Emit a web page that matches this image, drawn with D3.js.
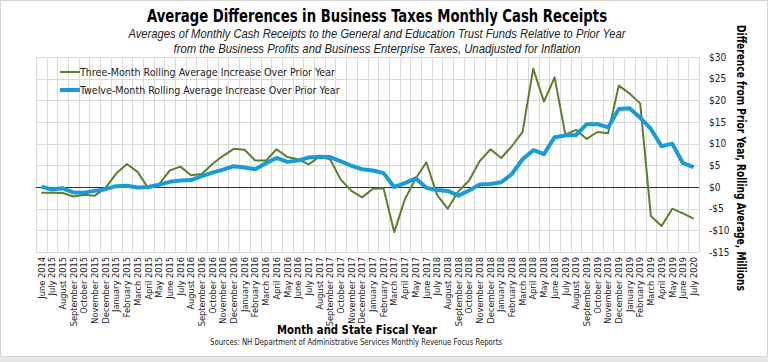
<!DOCTYPE html>
<html>
<head>
<meta charset="utf-8">
<script src="https://cdn.jsdelivr.net/npm/d3@7"></script>
<style>
  body { margin: 0; background: #fff; }
  .tick text { font-family: "DejaVu Sans Condensed", "Liberation Sans Narrow", "DejaVu Sans", sans-serif; fill: #222; }
</style>
</head>
<body>
<div id="chart"></div>
<script>
// month names in order of the state fiscal year (July..June)
var fyMonths = ["July", "August", "September", "October", "November", "December",
                "January", "February", "March", "April", "May", "June"];
var fiscalYears = [2015, 2016, 2017, 2018, 2019];

// tick labels: June 2014, then every month labelled with its fiscal year, then July 2020
var months = ["June 2014"];
fiscalYears.forEach(function(fy){
	fyMonths.forEach(function(m){ months.push(m + " " + fy); });
});
months.push("July 2020");

// three month rolling average increase over prior year ($ millions)
var threeMonth = [-1.3, -1.3, -1.4, -2.2, -1.8, -2.0, -0.2, 3.1, 5.3, 3.5,
                  -0.3, 0.6, 3.8, 4.7, 2.7, 3.0, 5.3, 7.2, 8.8, 8.6,
                  6.1, 6.1, 8.7, 6.9, 6.4, 5.2, 7.0, 6.4, 1.7, -0.9,
                  -2.4, -0.4, -0.3, -10.4, -2.8, 1.9, 5.7, -1.8, -5.0, -1.0,
                  1.5, 6.0, 8.7, 6.7, 9.4, 12.7, 27.3, 19.7, 25.3, 12.1,
                  13.2, 11.1, 12.7, 12.4, 23.4, 21.6, 19.3, -6.7, -9.0, -5.0,
                  -6.1, -7.3];

// twelve month rolling average increase over prior year ($ millions)
var twelveMonth = [0.1, -0.6, -0.3, -1.25, -1.3, -0.9, -0.5, 0.2, 0.3, -0.1,
                   0.0, 0.5, 1.2, 1.5, 1.6, 2.5, 3.3, 4.0, 4.8, 4.5,
                   4.1, 5.5, 6.7, 5.8, 6.1, 6.8, 7.0, 6.9, 5.9, 4.9,
                   4.1, 3.8, 3.2, 0.0, 0.9, 2.0, -0.2, -0.7, -0.9, -2.0,
                   -0.8, 0.55, 0.7, 1.1, 3.0, 6.4, 8.5, 7.6, 11.5, 11.9,
                   12.0, 14.5, 14.5, 13.75, 18.0, 18.2, 16.0, 13.4, 9.4, 10.0,
                   5.5, 4.6];

var yTicks = [-15, -10, -5, 0, 5, 10, 15, 20, 25, 30];

var seriesNames = ["Three-Month Rolling Average Increase Over Prior Year",
                   "Twelve-Month Rolling Average Increase Over Prior Year"];

var width = 768, height = 362;
var margin = {top: 57, right: 69, bottom: 110, left: 36};

var green = "#5b7f2b";
var blue = "#189cd8";
var gridColor = "#d9d9d9";
var tickFont = '"DejaVu Sans Condensed", "Liberation Sans Narrow", "DejaVu Sans", sans-serif';

var svg = d3.select("#chart").append("svg")
	.attr("width", width)
	.attr("height", height);

// frame
svg.append("rect")
	.attr("x", 0.5).attr("y", 0.5)
	.attr("width", width - 1).attr("height", height - 6)
	.attr("fill", "#fff")
	.attr("stroke", "#d4d4d4");
svg.append("rect")
	.attr("x", 0).attr("y", height - 5)
	.attr("width", width).attr("height", 5)
	.attr("fill", "#e6e6e6");

var xScale = d3.scaleBand()
	.domain(months)
	.range([margin.left, width - margin.right]);

var yScale = d3.scaleLinear()
	.domain([-15, 30])
	.range([height - margin.bottom, margin.top]);

function xc(i) { return xScale(months[i]) + xScale.bandwidth() / 2; }

// gridlines
var grid = svg.append("g").attr("class", "grid");

grid.selectAll(".hgrid")
	.data(yTicks)
	.enter().append("line")
	.attr("class", "hgrid")
	.attr("x1", margin.left)
	.attr("x2", width - margin.right)
	.attr("y1", function(d){ return Math.round(yScale(d)) + 0.5; })
	.attr("y2", function(d){ return Math.round(yScale(d)) + 0.5; })
	.attr("stroke", gridColor);

var bounds = months.map(function(m){ return xScale(m); });
bounds.push(width - margin.right);

grid.selectAll(".vgrid")
	.data(bounds)
	.enter().append("line")
	.attr("class", "vgrid")
	.attr("x1", function(d){ return Math.round(d) + 0.5; })
	.attr("x2", function(d){ return Math.round(d) + 0.5; })
	.attr("y1", yScale(30))
	.attr("y2", yScale(-15))
	.attr("stroke", gridColor);

// zero line
svg.append("line")
	.attr("x1", margin.left)
	.attr("x2", width - margin.right)
	.attr("y1", Math.round(yScale(0)) + 0.5)
	.attr("y2", Math.round(yScale(0)) + 0.5)
	.attr("stroke", "#333")
	.attr("stroke-width", 1);

// axes
var yAxis = d3.axisRight(yScale)
	.tickValues(yTicks)
	.tickSize(0)
	.tickPadding(10)
	.tickFormat(function(d){ return d < 0 ? "-$" + Math.abs(d) : "$" + d; });

svg.append("g")
	.attr("class", "axis y-axis")
	.attr("transform", "translate(" + (width - margin.right) + ",0)")
	.call(yAxis)
	.call(function(g){ g.select(".domain").remove(); })
	.selectAll("text")
	.attr("font-size", 10);

var xAxis = d3.axisBottom(xScale).tickSize(0);

svg.append("g")
	.attr("class", "axis x-axis")
	.attr("transform", "translate(0," + (height - margin.bottom) + ")")
	.call(xAxis)
	.call(function(g){ g.select(".domain").remove(); })
	.selectAll("text")
	.attr("font-size", 9.2)
	.attr("text-anchor", "end")
	.attr("transform", "rotate(-90)")
	.attr("x", -5)
	.attr("y", 0)
	.attr("dy", "0.35em");

// lines
var line = d3.line()
	.x(function(d, i){ return xc(i); })
	.y(function(d){ return yScale(d); });

svg.append("path")
	.datum(threeMonth)
	.attr("fill", "none")
	.attr("stroke", green)
	.attr("stroke-width", 2)
	.attr("stroke-linejoin", "round")
	.attr("d", line);

svg.append("path")
	.datum(twelveMonth)
	.attr("fill", "none")
	.attr("stroke", blue)
	.attr("stroke-width", 4)
	.attr("stroke-linejoin", "round")
	.attr("d", line);

// legend
var legend = svg.append("g").attr("class", "legend");
var legendItems = [{name: seriesNames[0], color: green, w: 2, y: 72},
                   {name: seriesNames[1], color: blue, w: 4, y: 90}];

legend.selectAll("line")
	.data(legendItems)
	.enter().append("line")
	.attr("x1", 60).attr("x2", 80)
	.attr("y1", function(d){ return d.y; })
	.attr("y2", function(d){ return d.y; })
	.attr("stroke", function(d){ return d.color; })
	.attr("stroke-width", function(d){ return d.w; });

legend.selectAll("text")
	.data(legendItems)
	.enter().append("text")
	.attr("x", 80)
	.attr("y", function(d){ return d.y; })
	.attr("dy", "0.35em")
	.attr("font-family", tickFont)
	.attr("font-size", 10.6)
	.attr("fill", "#222")
	.text(function(d){ return d.name; });

// titles
svg.append("text")
	.attr("x", 377)
	.attr("y", 22)
	.attr("text-anchor", "middle")
	.attr("font-family", tickFont)
	.attr("font-weight", "bold")
	.attr("font-size", 17)
	.attr("textLength", 460)
	.attr("lengthAdjust", "spacingAndGlyphs")
	.text("Average Differences in Business Taxes Monthly Cash Receipts");

var subtitles = ["Averages of Monthly Cash Receipts to the General and Education Trust Funds Relative to Prior Year",
                 "from the Business Profits and Business Enterprise Taxes, Unadjusted for Inflation"];
var subLen = [497, 407];

svg.selectAll(".subtitle")
	.data(subtitles)
	.enter().append("text")
	.attr("class", "subtitle")
	.attr("x", 377)
	.attr("y", function(d, i){ return 38 + i * 15; })
	.attr("text-anchor", "middle")
	.attr("font-family", '"Liberation Sans Narrow", "Liberation Sans", sans-serif')
	.attr("font-style", "italic")
	.attr("font-size", 13)
	.attr("textLength", function(d, i){ return subLen[i]; })
	.attr("lengthAdjust", "spacingAndGlyphs")
	.attr("fill", "#222")
	.text(function(d){ return d; });

svg.append("text")
	.attr("x", 357)
	.attr("y", 334)
	.attr("text-anchor", "middle")
	.attr("font-family", tickFont)
	.attr("font-weight", "bold")
	.attr("font-size", 13)
	.attr("textLength", 160)
	.attr("lengthAdjust", "spacingAndGlyphs")
	.text("Month and State Fiscal Year");

svg.append("text")
	.attr("x", 356)
	.attr("y", 345)
	.attr("text-anchor", "middle")
	.attr("font-family", tickFont)
	.attr("font-size", 8)
	.attr("textLength", 292)
	.attr("lengthAdjust", "spacingAndGlyphs")
	.attr("fill", "#222")
	.text("Sources: NH Department of Administrative Services Monthly Revenue Focus Reports");

svg.append("text")
	.attr("transform", "translate(741,158) rotate(90)")
	.attr("text-anchor", "middle")
	.attr("dy", "0.35em")
	.attr("font-family", tickFont)
	.attr("font-weight", "bold")
	.attr("font-size", 12)
	.attr("textLength", 266)
	.attr("lengthAdjust", "spacingAndGlyphs")
	.text("Difference from Prior Year, Rolling Average, Millions");
</script>
</body>
</html>
